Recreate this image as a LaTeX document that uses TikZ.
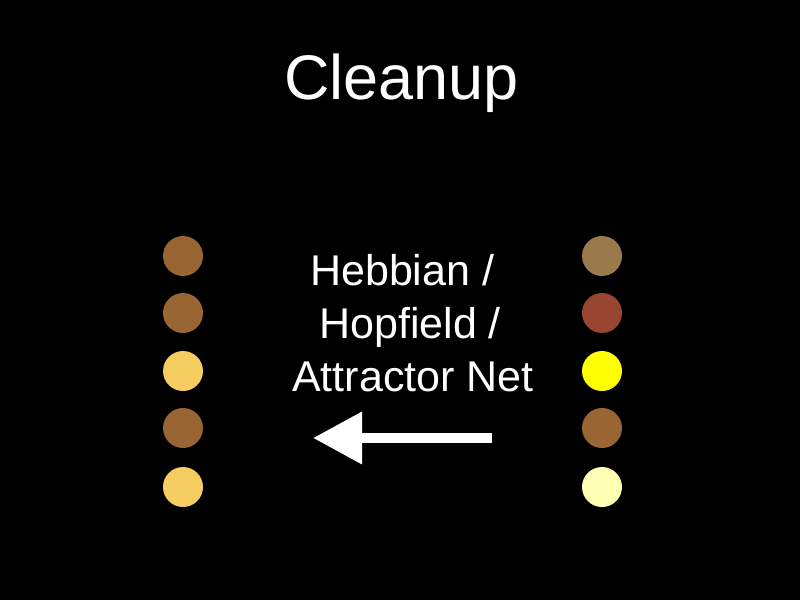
\documentclass[tikz,border=0pt]{standalone}
\usepackage{fontspec}
\setmainfont{Liberation Sans}
\usetikzlibrary{arrows.meta}
\definecolor{brownA}{RGB}{153,102,51}
\definecolor{goldA}{RGB}{245,205,96}
\definecolor{tanB}{RGB}{154,122,74}
\definecolor{rustB}{RGB}{152,70,50}
\definecolor{yellowB}{RGB}{255,255,0}
\definecolor{paleB}{RGB}{255,255,180}
\tikzset{
  dot/.style={circle, minimum size=40pt, inner sep=0pt, draw=none},
  title/.style={text=white, font=\fontsize{63}{75}\selectfont, inner sep=0pt, anchor=base west},
  body/.style={text=white, font=\fontsize{43}{51}\selectfont, inner sep=0pt, anchor=base west},
  bigarrow/.style={white, line width=10pt, -{Triangle[length=49pt,width=50pt]}}
}
\begin{document}
\begin{tikzpicture}[x=1pt,y=-1pt]
\fill[black] (0,0) rectangle (800,600);
\useasboundingbox (0,0) rectangle (800,600);
\node[title] (t) at (284,99) {Cleanup};
\node[body] (l1) at (310,285) {Hebbian /};
\node[body] (l2) at (319,338) {Hopfield /};
\node[body] (l3) at (292,391) {Attractor Net};
\node[dot, fill=brownA] (a1) at (183,256) {};
\node[dot, fill=brownA] (a2) at (183,313) {};
\node[dot, fill=goldA] (a3) at (183,371) {};
\node[dot, fill=brownA] (a4) at (183,428) {};
\node[dot, fill=goldA] (a5) at (183,487) {};
\node[dot, fill=tanB] (b1) at (602,256) {};
\node[dot, fill=rustB] (b2) at (602,313) {};
\node[dot, fill=yellowB] (b3) at (602,371) {};
\node[dot, fill=brownA] (b4) at (602,428) {};
\node[dot, fill=paleB] (b5) at (602,487) {};
\coordinate (as) at (492,438);
\coordinate (ae) at (313,438);
\draw[bigarrow] (as) -- (ae);
\end{tikzpicture}
\end{document}
